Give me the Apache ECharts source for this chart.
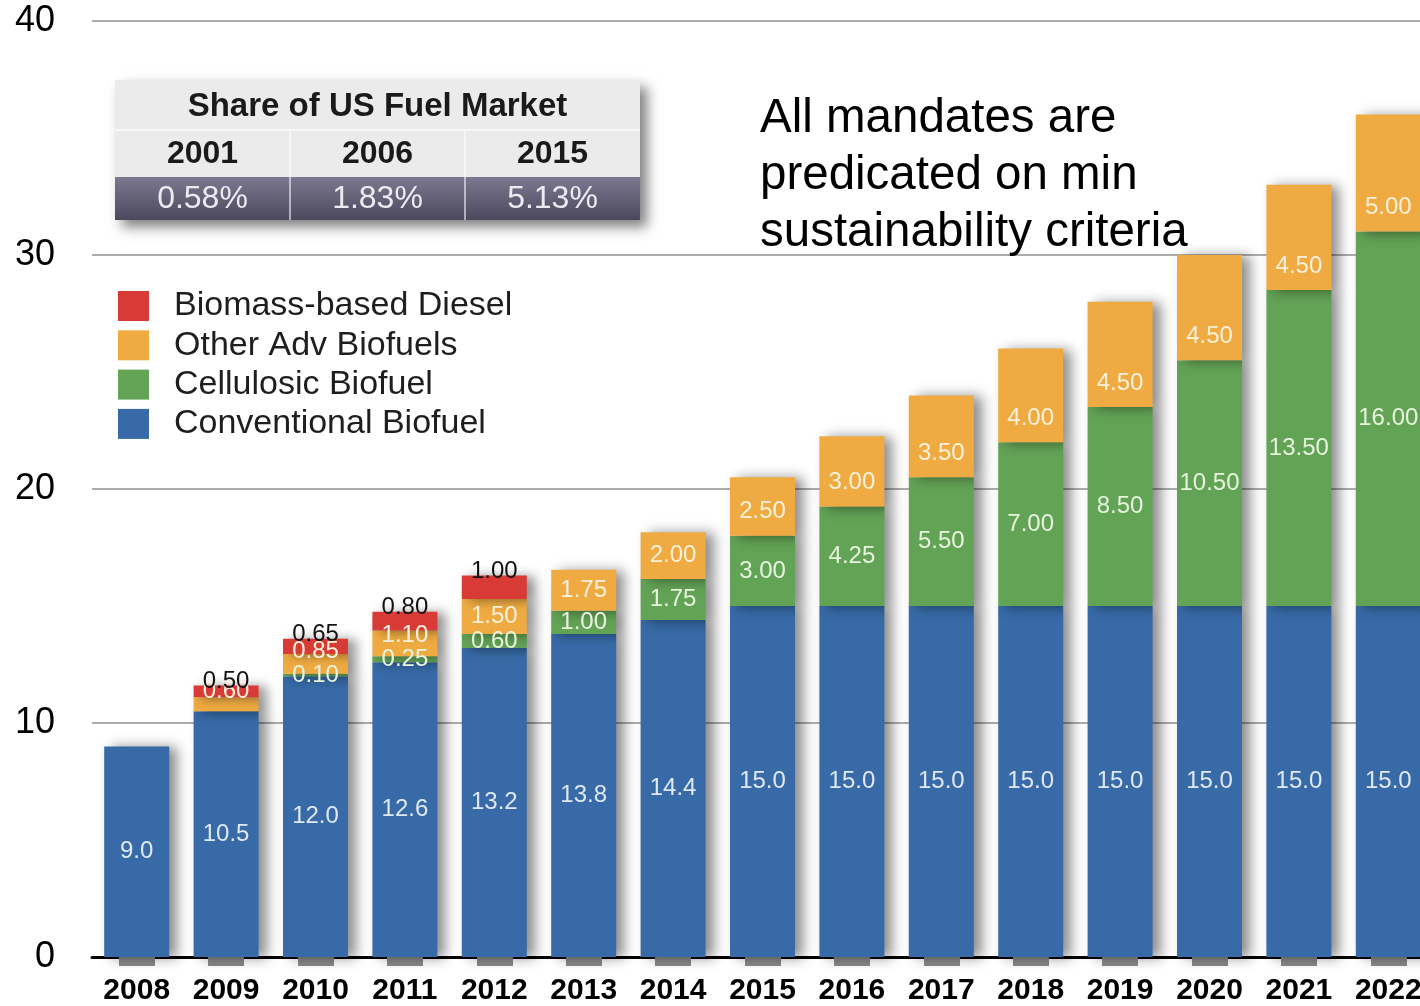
<!DOCTYPE html>
<html>
<head>
<meta charset="utf-8">
<title>Renewable Fuel Standard volumes</title>
<script src="https://cdn.jsdelivr.net/npm/echarts@6/dist/echarts.min.js"></script>
<style>
  html, body { margin: 0; padding: 0; background: #ffffff; overflow: hidden; }
  /* the plot runs a little past the right edge of the window, so the last bar is cut flush */
  #chart { width: 1433px; height: 1006px; }
</style>
</head>
<body>
<div id="chart"></div>
<script>
// Mandated volumes, billion gallons per year
const years = ['2008', '2009', '2010', '2011', '2012', '2013', '2014', '2015',
               '2016', '2017', '2018', '2019', '2020', '2021', '2022'];
const conventionalBiofuel = [9.0, 10.5, 12.0, 12.6, 13.2, 13.8, 14.4, 15.0,
                             15.0, 15.0, 15.0, 15.0, 15.0, 15.0, 15.0];
const cellulosicBiofuel = [null, null, 0.10, 0.25, 0.60, 1.00, 1.75, 3.00,
                           4.25, 5.50, 7.00, 8.50, 10.50, 13.50, 16.00];
const otherAdvBiofuels = [null, 0.60, 0.85, 1.10, 1.50, 1.75, 2.00, 2.50,
                          3.00, 3.50, 4.00, 4.50, 4.50, 4.50, 5.00];
const biomassDiesel = [null, 0.50, 0.65, 0.80, 1.00, null, null, null,
                       null, null, null, null, null, null, null];
const yTicks = [0, 10, 20, 30, 40];

// Share-of-market table
const shareTitle = 'Share of US Fuel Market';
const shareYears = ['2001', '2006', '2015'];
const shareValues = ['0.58%', '1.83%', '5.13%'];

const noteLines = ['All mandates are', 'predicated on min', 'sustainability criteria'];

const colors = {
  conventional: '#376aa6',
  cellulosic: '#63a356',
  other: '#efab42',
  diesel: '#d83a35'
};

const FONT = '"Liberation Sans", Arial, Helvetica, sans-serif';

const barShadow = {
  shadowColor: 'rgba(0,0,0,0.45)',
  shadowBlur: 12,
  shadowOffsetX: 8,
  shadowOffsetY: 1
};

function fmt2(p) { return p.value == null ? '' : Number(p.value).toFixed(2); }
function fmt1(p) { return p.value == null ? '' : Number(p.value).toFixed(1); }

// Orange labels: lifted on the thin early segments, near the base on later ones
const otherData = otherAdvBiofuels.map(function (v, i) {
  const item = { value: v };
  if (i >= 7) {
    item.label = { position: 'insideBottom', distance: 12 };
  } else if (i === 1 || i === 2) {
    item.label = { offset: [0, -13] };
  } else if (i === 3) {
    item.label = { offset: [0, -8] };
  }
  return item;
});

const chart = echarts.init(document.getElementById('chart'), null, { renderer: 'canvas' });

const tableX = 115, tableY = 80, colW = 175;
const graphics = [];

// table body
graphics.push({
  type: 'rect',
  shape: { x: tableX, y: tableY, width: colW * 3, height: 140 },
  style: {
    fill: '#ebebeb',
    shadowColor: 'rgba(0,0,0,0.5)', shadowBlur: 12, shadowOffsetX: 7, shadowOffsetY: 7
  },
  z: 10
});
// dark values row
graphics.push({
  type: 'rect',
  shape: { x: tableX, y: tableY + 97, width: colW * 3, height: 43 },
  style: {
    fill: new echarts.graphic.LinearGradient(0, 0, 0, 1, [
      { offset: 0, color: '#7c7890' },
      { offset: 1, color: '#4c485c' }
    ])
  },
  z: 11
});
// column dividers
for (let c = 1; c < 3; c++) {
  graphics.push({
    type: 'line',
    shape: { x1: tableX + colW * c, y1: tableY + 50, x2: tableX + colW * c, y2: tableY + 140 },
    style: { stroke: 'rgba(255,255,255,0.55)', lineWidth: 2 },
    z: 12
  });
}
graphics.push({
  type: 'line',
  shape: { x1: tableX, y1: tableY + 50, x2: tableX + colW * 3, y2: tableY + 50 },
  style: { stroke: 'rgba(255,255,255,0.6)', lineWidth: 2 },
  z: 12
});
graphics.push({
  type: 'text',
  style: {
    text: shareTitle, x: tableX + colW * 1.5, y: tableY + 27,
    align: 'center', verticalAlign: 'middle',
    fontFamily: FONT, fontSize: 33, fontWeight: 'bold', fill: '#1a1a1a'
  },
  z: 13
});
shareYears.forEach(function (y, i) {
  graphics.push({
    type: 'text',
    style: {
      text: y, x: tableX + colW * (i + 0.5), y: tableY + 74,
      align: 'center', verticalAlign: 'middle',
      fontFamily: FONT, fontSize: 32, fontWeight: 'bold', fill: '#1a1a1a'
    },
    z: 13
  });
});
shareValues.forEach(function (v, i) {
  graphics.push({
    type: 'text',
    style: {
      text: v, x: tableX + colW * (i + 0.5), y: tableY + 119,
      align: 'center', verticalAlign: 'middle',
      fontFamily: FONT, fontSize: 32, fill: '#ecebf2'
    },
    z: 13
  });
});
// note
graphics.push({
  type: 'text',
  style: {
    text: noteLines.join('\n'), x: 760, y: 90,
    align: 'left', verticalAlign: 'top',
    fontFamily: FONT, fontSize: 47.5, lineHeight: 57, fill: '#000000'
  },
  z: 13
});

const option = {
  backgroundColor: '#ffffff',
  animation: false,
  textStyle: { fontFamily: FONT },
  grid: { left: 92, right: 0, top: 21, bottom: 49 },
  legend: {
    orient: 'vertical',
    left: 113,
    top: 284,
    itemWidth: 31,
    itemHeight: 30,
    itemGap: 5.3,
    icon: 'rect',
    data: ['Biomass-based Diesel', 'Other Adv Biofuels', 'Cellulosic Biofuel', 'Conventional Biofuel'],
    textStyle: { fontSize: 34, color: '#1e1e1e', padding: [0, 0, 0, 20], fontFamily: FONT }
  },
  xAxis: {
    type: 'category',
    data: years,
    axisLine: { lineStyle: { color: '#000000', width: 3 } },
    axisTick: { show: true, alignWithLabel: true, length: 9, lineStyle: { color: '#8a8a8a', width: 36 } },
    axisLabel: {
      interval: 0,
      margin: 19,
      fontSize: 30,
      fontWeight: 'bold',
      color: '#000000',
      fontFamily: FONT
    }
  },
  yAxis: {
    type: 'value',
    min: yTicks[0],
    max: yTicks[yTicks.length - 1],
    interval: 10,
    axisLine: { show: false },
    axisTick: { show: false },
    axisLabel: { fontSize: 36, color: '#000000', margin: 37, fontFamily: FONT },
    splitLine: { lineStyle: { color: '#acacac', width: 2 } }
  },
  series: [
    {
      name: 'Conventional Biofuel',
      type: 'bar',
      stack: 'rfs',
      barWidth: 65,
      data: conventionalBiofuel,
      itemStyle: Object.assign({ color: colors.conventional }, barShadow),
      label: { show: true, position: 'inside', formatter: fmt1, color: '#dfe8f2', fontSize: 24 }
    },
    {
      name: 'Cellulosic Biofuel',
      type: 'bar',
      stack: 'rfs',
      data: cellulosicBiofuel,
      itemStyle: Object.assign({ color: colors.cellulosic }, barShadow),
      label: { show: true, position: 'inside', formatter: fmt2, color: '#e6f4de', fontSize: 24 }
    },
    {
      name: 'Other Adv Biofuels',
      type: 'bar',
      stack: 'rfs',
      data: otherData,
      itemStyle: Object.assign({ color: colors.other }, barShadow),
      label: { show: true, position: 'inside', formatter: fmt2, color: '#fdf1dc', fontSize: 24 }
    },
    {
      name: 'Biomass-based Diesel',
      type: 'bar',
      stack: 'rfs',
      data: biomassDiesel,
      itemStyle: Object.assign({ color: colors.diesel }, barShadow),
      label: { show: true, position: 'top', distance: -8, formatter: fmt2, color: '#111111', fontSize: 24 }
    }
  ],
  graphic: graphics
};

chart.setOption(option);
</script>
</body>
</html>
